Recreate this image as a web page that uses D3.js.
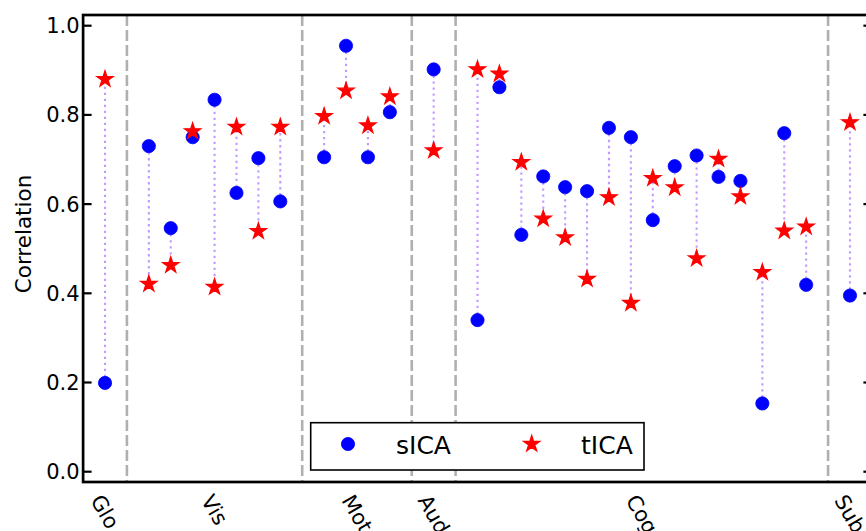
<!DOCTYPE html>
<html>
<head>
<meta charset="utf-8">
<script src="https://cdn.jsdelivr.net/npm/d3@7"></script>
<style>
  html, body { margin: 0; padding: 0; background: #fff; overflow: hidden; }
  svg { display: block; font-family: "DejaVu Sans", sans-serif; }
</style>
</head>
<body>
<svg id="chart" width="866" height="531"></svg>
<script>
// ---- data ----
const groups = ["Glo", "Vis", "Mot", "Aud", "Cog", "Sub"];
const groupSizes = [1, 7, 4, 1, 16, 1];
const sICA = [
  0.199,
  0.730, 0.546, 0.750, 0.834, 0.625, 0.703, 0.606,
  0.705, 0.955, 0.705, 0.806,
  0.902,
  0.340, 0.862, 0.531, 0.662, 0.638, 0.629, 0.771, 0.750, 0.564, 0.685, 0.709, 0.661, 0.652, 0.153, 0.759, 0.419,
  0.395
];
const tICA = [
  0.880,
  0.421, 0.463, 0.763, 0.414, 0.773, 0.539, 0.773,
  0.797, 0.854, 0.776, 0.841,
  0.720,
  0.902, 0.892, 0.694, 0.567, 0.525, 0.432, 0.615, 0.378, 0.658, 0.637, 0.478, 0.701, 0.617, 0.447, 0.540, 0.549,
  0.783
];
const yTicks = [0.0, 0.2, 0.4, 0.6, 0.8, 1.0];
const seriesNames = ["sICA", "tICA"];

// ---- layout: positions with a separator slot between groups ----
const pos = [];
const seps = [];
const groupCenters = [];
let p = 0;
groupSizes.forEach((n, gi) => {
  if (gi > 0) { seps.push(p); p++; }
  const start = p;
  for (let k = 0; k < n; k++) { pos.push(p); p++; }
  groupCenters.push((start + p - 1) / 2);
});

const svg = d3.select("#chart");
const x = d3.scaleLinear().domain([-1, 35]).range([83.1, 871.9]);
const y = d3.scaleLinear().domain([0, 1]).range([471.7, 25.7]);
const yTop = 15, yBot = 482;

// separators
svg.append("g").selectAll("line").data(seps).join("line")
  .attr("x1", d => x(d)).attr("x2", d => x(d))
  .attr("y1", yTop).attr("y2", yBot)
  .attr("stroke", "#b0b0b0").attr("stroke-width", 2.6)
  .attr("stroke-dasharray", "11,4");

// connectors
svg.append("g").selectAll("line").data(pos).join("line")
  .attr("x1", d => x(d)).attr("x2", d => x(d))
  .attr("y1", (d, i) => y(sICA[i])).attr("y2", (d, i) => y(tICA[i]))
  .attr("stroke", "#c29aff").attr("stroke-width", 2.1)
  .attr("stroke-dasharray", "2.3,3.7");

// sICA circles
svg.append("g").selectAll("circle").data(pos).join("circle")
  .attr("cx", d => x(d)).attr("cy", (d, i) => y(sICA[i]))
  .attr("r", 6.6).attr("fill", "#0000ff").attr("stroke", "#0000ff").attr("stroke-width", 0.8);

// tICA stars
const star = d3.symbol().type(d3.symbolStar).size(80);
svg.append("g").selectAll("path").data(pos).join("path")
  .attr("d", star)
  .attr("transform", (d, i) => `translate(${x(d)},${y(tICA[i])})`)
  .attr("fill", "#ff0000").attr("stroke", "#ff0000").attr("stroke-width", 1.3)
  .attr("stroke-linejoin", "miter");

// spines
const xl = x(-1), xr = x(35);
svg.append("rect").attr("x", xl).attr("y", yTop).attr("width", xr - xl).attr("height", yBot - yTop)
  .attr("fill", "none").attr("stroke", "#000").attr("stroke-width", 2.7);

// y ticks (inward, both sides)
const yt = svg.append("g");
yTicks.forEach(t => {
  yt.append("line").attr("x1", xl).attr("x2", xl + 8.5).attr("y1", y(t)).attr("y2", y(t))
    .attr("stroke", "#000").attr("stroke-width", 2.2);
  yt.append("line").attr("x1", xr).attr("x2", xr - 8.5).attr("y1", y(t)).attr("y2", y(t))
    .attr("stroke", "#000").attr("stroke-width", 2.2);
  yt.append("text").attr("x", xl - 3.5).attr("y", y(t)).attr("dy", "0.36em")
    .attr("text-anchor", "end").attr("font-size", 21).attr("fill", "#000")
    .text(d3.format(".1f")(t));
});

// y label
svg.append("text").attr("transform", "translate(30.5,234) rotate(-90)")
  .attr("text-anchor", "middle").attr("font-size", 21.5).attr("fill", "#000")
  .text("Correlation");

// x group labels, rotated 60deg clockwise, rotated bbox centered on tick
const fs = 21, asc = 0.928 * fs, desc = 0.236 * fs;
const th = 60 * Math.PI / 180, c = Math.cos(th), s = Math.sin(th);
groups.forEach((g, gi) => {
  const t = svg.append("text").attr("font-size", fs).attr("fill", "#000").text(g);
  const w = t.node().getComputedTextLength();
  const minX = -s * desc, maxX = c * w + s * asc;
  const ax = x(groupCenters[gi]) - (minX + maxX) / 2;
  const ay = 490.5 + c * asc;
  t.attr("transform", `translate(${ax},${ay}) rotate(60)`);
});

// legend
const lg = svg.append("g");
lg.append("rect").attr("x", 310.7).attr("y", 422.7).attr("width", 333.3).attr("height", 47.3)
  .attr("fill", "#fff").attr("stroke", "#000").attr("stroke-width", 1.6);
lg.append("circle").attr("cx", 348).attr("cy", 444).attr("r", 6.6).attr("fill", "#0000ff")
  .attr("stroke", "#0000ff").attr("stroke-width", 0.8);
lg.append("text").attr("x", 396).attr("y", 454).attr("font-size", 25).attr("fill", "#000").text(seriesNames[0]);
lg.append("path").attr("d", star).attr("transform", "translate(531.7,444)")
  .attr("fill", "#ff0000").attr("stroke", "#ff0000").attr("stroke-width", 1.3);
lg.append("text").attr("x", 581).attr("y", 454).attr("font-size", 25).attr("fill", "#000").text(seriesNames[1]);
</script>
</body>
</html>
